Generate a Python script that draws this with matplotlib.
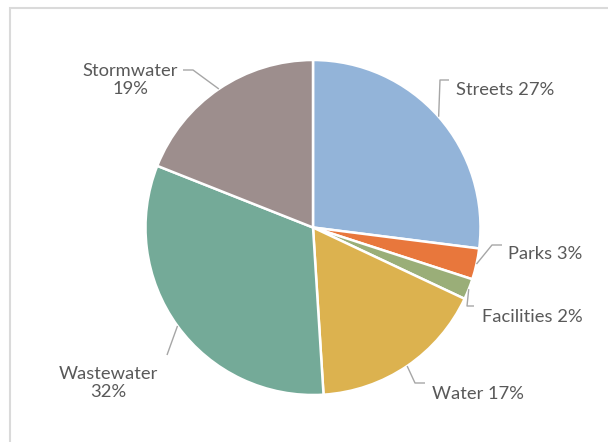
import numpy as np
import matplotlib.pyplot as plt
from matplotlib.patches import Rectangle

# Capital budget share by program
categories = ['Streets', 'Parks', 'Facilities', 'Water', 'Wastewater', 'Stormwater']
shares = [27, 3, 2, 17, 32, 19]
colors = ['#93b4d9', '#e8773c', '#9aae78', '#dcb24f', '#74aa98', '#9d8e8d']
label_texts = ['Streets 27%', 'Parks 3%', 'Facilities 2%', 'Water 17%',
               'Wastewater\n32%', 'Stormwater\n19%']

W, H = 608, 442
fig = plt.figure(figsize=(W / 100, H / 100), dpi=100)
ax = fig.add_axes([0, 0, 1, 1])
ax.set_xlim(0, W)
ax.set_ylim(0, H)
ax.set_aspect('equal')
ax.axis('off')

# pixel-style coordinates: y measured from the top
def py(y):
    return H - y

cx, cy, r = 313, 227.5, 167.5

# chart area border
ax.add_patch(Rectangle((9.5, py(460)), 620, 452, fill=False,
                       edgecolor='#dadada', linewidth=1.5))

wedges, _ = ax.pie(shares, colors=colors, startangle=90, counterclock=False,
                   center=(cx, py(cy)), radius=r,
                   wedgeprops=dict(edgecolor='white', linewidth=1.8))
ax.set_xlim(0, W)
ax.set_ylim(0, H)

# label placement: text anchor, alignment, elbow points of the leader line
layout = {
    'Streets':    dict(xy=(456, 90),  ha='left',   elbow=[(440, 80), (449, 80)]),
    'Parks':      dict(xy=(508, 254), ha='left',   elbow=[(492, 245), (502, 245)]),
    'Facilities': dict(xy=(482, 317), ha='left',   elbow=[(467, 306), (474, 306)]),
    'Water':      dict(xy=(432, 394), ha='left',   elbow=[(415, 383), (425, 383)]),
    'Wastewater': dict(xy=(108, 383), ha='center', elbow=[(167, 355)]),
    'Stormwater': dict(xy=(130, 80),  ha='center', elbow=[(193, 70), (183, 70)]),
}

total = sum(shares)
cum = np.cumsum([0] + shares)
for i, name in enumerate(categories):
    mid = (cum[i] + shares[i] / 2) / total * 2 * np.pi
    ex = cx + r * np.sin(mid)
    ey = cy - r * np.cos(mid)
    pts = [(ex, ey)] + layout[name]['elbow']
    ax.plot([p[0] for p in pts], [py(p[1]) for p in pts],
            color='#a6a6a6', linewidth=1, solid_capstyle='butt')
    tx, ty = layout[name]['xy']
    ax.text(tx, py(ty), label_texts[i], ha=layout[name]['ha'], va='center',
            fontsize=13.2, color='#595959', family='Lato',
            linespacing=1.1, multialignment='center')

fig.savefig('out.png', dpi=100, facecolor='white')
